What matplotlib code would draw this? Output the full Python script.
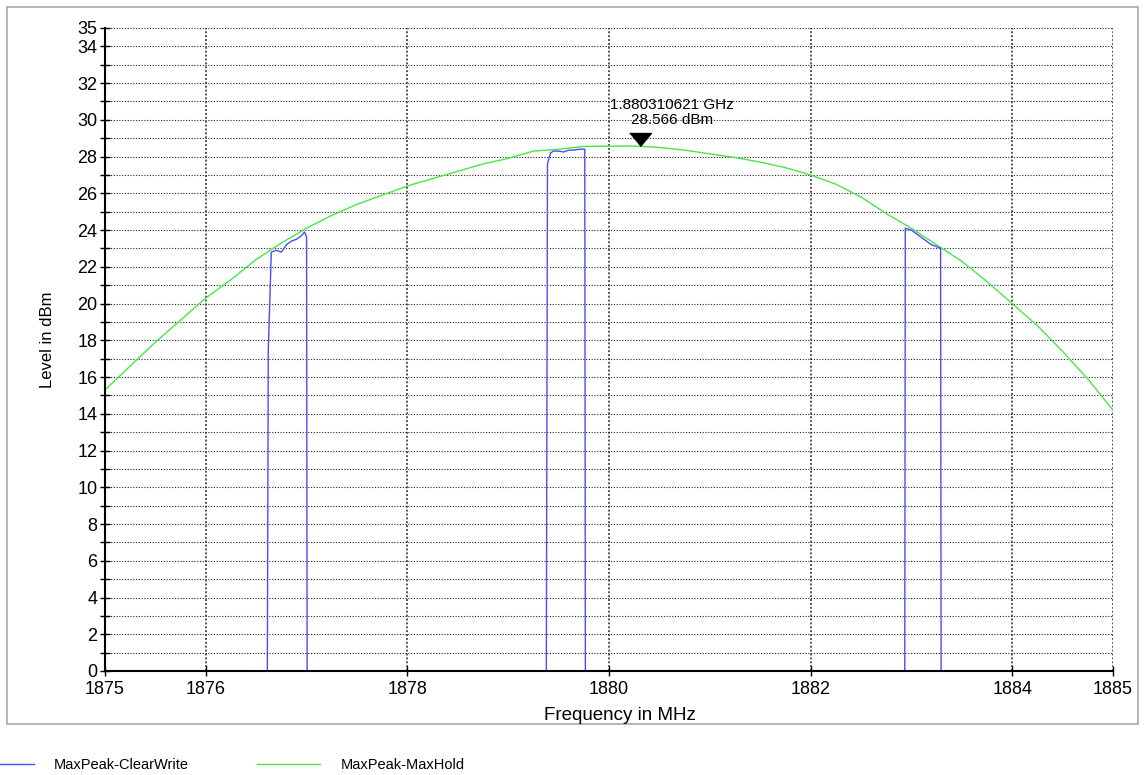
import numpy as np
import matplotlib
matplotlib.use("Agg")
import matplotlib.pyplot as plt
from matplotlib.lines import Line2D
from matplotlib.patches import Rectangle

plt.rcParams['font.family'] = ['Liberation Sans', 'DejaVu Sans']

# MaxHold trace (green)
maxhold_freq = [1875.0, 1875.25, 1875.5, 1875.75, 1876.0, 1876.25, 1876.5, 1876.75,
                1877.0, 1877.25, 1877.5, 1877.75, 1878.0, 1878.25, 1878.5, 1878.75,
                1879.0, 1879.25, 1879.5, 1879.75, 1880.0, 1880.25, 1880.5, 1880.75,
                1881.0, 1881.25, 1881.5, 1881.75, 1882.0, 1882.25, 1882.5, 1882.75,
                1883.0, 1883.25, 1883.5, 1883.75, 1884.0, 1884.25, 1884.5, 1884.75,
                1885.0]
maxhold_level = [15.3, 16.6, 17.9, 19.1, 20.3, 21.3, 22.4, 23.3,
                 24.1, 24.8, 25.4, 25.9, 26.4, 26.8, 27.2, 27.6,
                 27.9, 28.3, 28.4, 28.55, 28.57, 28.57, 28.5, 28.35,
                 28.15, 27.95, 27.7, 27.4, 27.0, 26.5, 25.8, 24.9,
                 24.1, 23.2, 22.3, 21.2, 20.0, 18.8, 17.4, 15.9,
                 14.2]

# ClearWrite trace (blue): three bursts, below the axis elsewhere
clearwrite_freq = [1875.0, 1876.60, 1876.62, 1876.65, 1876.70, 1876.75, 1876.80, 1876.85,
                   1876.90, 1876.95, 1876.98, 1877.00, 1877.01,
                   1879.36, 1879.37, 1879.39, 1879.42, 1879.45, 1879.50, 1879.55, 1879.60,
                   1879.65, 1879.70, 1879.76, 1879.77,
                   1882.93, 1882.94, 1883.00, 1883.05, 1883.10, 1883.15, 1883.20, 1883.25,
                   1883.29, 1883.30, 1885.0]
clearwrite_level = [-20, -20, 17.5, 22.8, 22.9, 22.8, 23.2, 23.4,
                    23.5, 23.7, 23.9, 23.6, -20,
                    -20, -20, 27.6, 28.2, 28.3, 28.3, 28.25, 28.35,
                    28.35, 28.4, 28.4, -20,
                    -20, 24.1, 24.0, 23.8, 23.6, 23.4, 23.2, 23.1,
                    23.0, -20, -20]

marker_freq = 1880.310621
marker_level = 28.566

x_ticks = [1875, 1876, 1878, 1880, 1882, 1884, 1885]
y_ticks = list(range(0, 35, 2)) + [35]


def main():
    fig = plt.figure(figsize=(11.45, 7.75), dpi=100)
    ax = fig.add_axes([0.0917, 0.1342, 0.8803, 0.8297])

    blue = '#4b4bff'
    green = '#46e846'

    ax.plot(maxhold_freq, maxhold_level, color=green, lw=1.0, zorder=3)
    ax.plot(clearwrite_freq, clearwrite_level, color=blue, lw=1.0, zorder=4)

    # marker triangle with its tip on the peak
    tri = [(-1, 1.2), (1, 1.2), (0, 0)]
    ax.plot([marker_freq], [marker_level], marker=tri, markersize=18.7,
            color='black', linestyle='none', zorder=5, clip_on=False)
    ax.annotate('28.566 dBm', (marker_freq, marker_level), xytext=(23, 18.5),
                textcoords='offset points', ha='center', va='center', fontsize=11)
    ax.annotate('1.880310621 GHz', (marker_freq, marker_level), xytext=(23, 30),
                textcoords='offset points', ha='center', va='center', fontsize=11)

    ax.set_xlim(1875, 1885)
    ax.set_ylim(0, 35)
    ax.set_xticks(x_ticks)
    ax.set_yticks(y_ticks)
    ax.set_yticks(range(1, 35, 2), minor=True)

    ax.tick_params(axis='both', which='both', direction='inout', length=7,
                   width=1, labelsize=13, color='black')
    ax.tick_params(axis='x', pad=4)
    ax.tick_params(axis='y', pad=2)

    ax.grid(axis='y', which='both', color='#222222', linestyle=(0, (1, 1.5)), lw=0.8)
    ax.grid(axis='x', which='major', color='#555555', linestyle=(0, (1, 1)), lw=1.4)

    for side in ['top', 'right']:
        ax.spines[side].set_visible(False)
    for side in ['left', 'bottom']:
        ax.spines[side].set_linewidth(1.5)
        ax.spines[side].set_zorder(6)

    fig.text(0.5415, 1 - 715 / 775, 'Frequency in MHz', ha='center', va='center', fontsize=13.5)
    fig.text(48 / 1145, 1 - 340 / 775, 'Level in dBm', ha='center', va='center',
             rotation=90, fontsize=12)

    # grey frame round the plot
    fig.patches.append(Rectangle((7 / 1145, 1 - 724 / 775), 1131 / 1145, 717 / 775,
                                 transform=fig.transFigure, fill=False,
                                 edgecolor='#a8a8a8', lw=1.2))

    fig.legend([Line2D([], [], color=blue, lw=1.0)], ['MaxPeak-ClearWrite'],
               loc='center left', bbox_to_anchor=(0.0, 1 - 765 / 775),
               frameon=False, fontsize=10.5, borderpad=0, borderaxespad=0,
               handlelength=2.3, handletextpad=1.4)
    fig.legend([Line2D([], [], color=green, lw=1.0)], ['MaxPeak-MaxHold'],
               loc='center left', bbox_to_anchor=(257 / 1145, 1 - 765 / 775),
               frameon=False, fontsize=10.5, borderpad=0, borderaxespad=0,
               handlelength=4.3, handletextpad=1.45)

    fig.savefig('out.png', dpi=100)


if __name__ == "__main__":
    main()
